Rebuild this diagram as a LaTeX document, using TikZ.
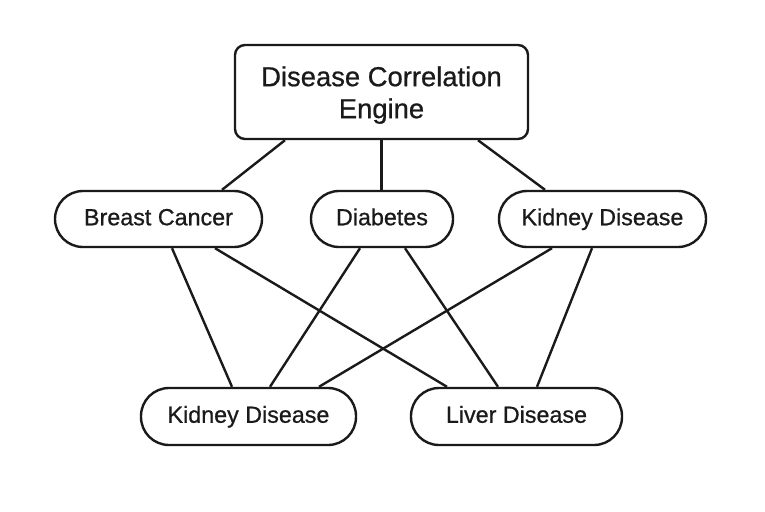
\documentclass[tikz,border=0pt]{standalone}
\usepackage{fontspec}
\setmainfont[FakeBold=0.7]{Liberation Sans}
\definecolor{ink}{HTML}{1A1A1A}
\begin{document}
\begin{tikzpicture}[x=1pt,y=-1pt,
  pill/.style={draw=ink, line width=2.4pt, rounded corners=28pt, minimum height=56pt, inner sep=0pt, text=ink, text height=17pt, text depth=4.5pt, font=\fontsize{23.3}{27}\selectfont},
  engbox/.style={draw=ink, line width=2.4pt, rounded corners=10pt, minimum width=293pt, minimum height=94pt, inner sep=0pt, align=center, text=ink, font=\fontsize{27.4}{32}\selectfont},
  link/.style={draw=ink, line width=2.4pt}]
\useasboundingbox[fill=white] (0,0) rectangle (765,511);
\node[engbox] (eng) at (381.5,92) {\rule{0pt}{26pt}Disease Correlation\\Engine};
\node[pill, minimum width=207pt] (bc) at (158.5,219) {Breast Cancer};
\node[pill, minimum width=142pt] (diab) at (382,219) {Diabetes};
\node[pill, minimum width=207pt] (kid1) at (602.5,219) {Kidney Disease};
\node[pill, minimum width=215pt, minimum height=57pt] (kid2) at (248.5,416.5) {Kidney Disease};
\node[pill, minimum width=211pt, minimum height=57pt] (liv) at (516.5,416.5) {Liver Disease};
\draw[link] ([xshift=-96.5pt]eng.south) -- ([xshift=63.5pt]bc.north);
\draw[link] (eng.south) -- (eng.south |- diab.north);
\draw[link] ([xshift=96.5pt]eng.south) -- ([xshift=-57.5pt]kid1.north);
\draw[link] ([xshift=13.5pt]bc.south) -- ([xshift=-16.5pt]kid2.north);
\draw[link] ([xshift=56.5pt]bc.south) -- ([xshift=-69.5pt]liv.north);
\draw[link] ([xshift=-22pt]diab.south) -- ([xshift=21.5pt]kid2.north);
\draw[link] ([xshift=23pt]diab.south) -- ([xshift=-18.5pt]liv.north);
\draw[link] ([xshift=-50.5pt]kid1.south) -- ([xshift=70.5pt]kid2.north);
\draw[link] ([xshift=-10.5pt]kid1.south) -- ([xshift=20.5pt]liv.north);
\end{tikzpicture}
\end{document}
